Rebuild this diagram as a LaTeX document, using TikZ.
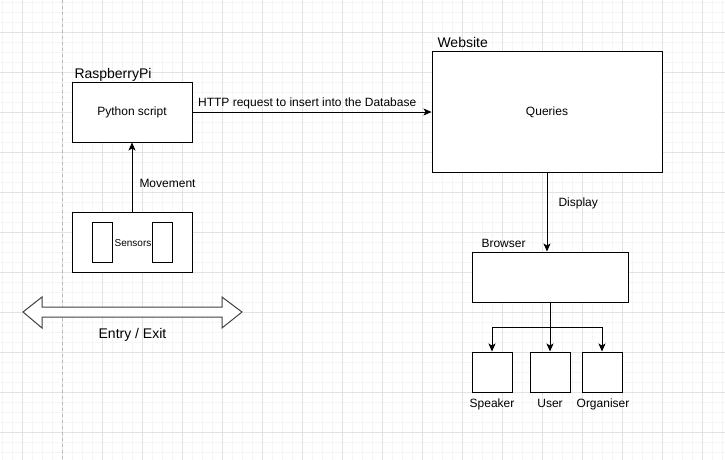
\documentclass[tikz,border=0pt]{standalone}
\usepackage{fontspec}
\setmainfont{Liberation Sans}
\usetikzlibrary{arrows.meta}

\begin{document}
\begin{tikzpicture}[x=1pt, y=-1pt, line width=1pt,
        box/.style={draw, rectangle, fill=white, inner sep=0pt, font=\fontsize{12}{14}\selectfont},
        title/.style={inner sep=0pt, anchor=base west, font=\fontsize{14}{16}\selectfont},
        lbl/.style={inner sep=0pt, font=\fontsize{12}{14}\selectfont},
        conn/.style={-{Stealth[length=8pt, width=7pt, inset=2pt]}}]
        \useasboundingbox (0,0) rectangle (725,460);
        \fill[white] (0,0) rectangle (725,460);

        % grid
        \foreach \x in {2,12,...,722} \draw[gray!8, line width=0.8pt] (\x,0) -- (\x,460);
        \foreach \y in {2,12,...,452} \draw[gray!8, line width=0.8pt] (0,\y) -- (725,\y);
        \foreach \x in {22,102,...,702} \draw[gray!22, line width=0.8pt] (\x,0) -- (\x,460);
        \foreach \x in {62,142,...,702} \draw[gray!22, line width=0.8pt] (\x,0) -- (\x,460);
        \foreach \y in {32,72,...,432} \draw[gray!22, line width=0.8pt] (0,\y) -- (725,\y);
        \draw[gray!55, dashed, line width=0.8pt] (62,0) -- (62,460);

        \node[box, minimum width=120, minimum height=60] (pi) at (132,112) {Python script};
        \node[box, minimum width=230, minimum height=120] (web) at (547,112) {Queries};
        \node[box, minimum width=120, minimum height=60] (sensors) at (132,242) {};
        \node[box, minimum width=20, minimum height=40] (s1) at (102,242) {};
        \node[box, minimum width=20, minimum height=40] (s2) at (162,242) {};
        \node[inner sep=0pt, font=\fontsize{10}{12}\selectfont] (sensorsl) at (133,243) {Sensors};
        \node[box, minimum width=156, minimum height=50] (browser) at (550,277) {};
        \node[box, minimum width=40, minimum height=40] (speaker) at (492,372) {};
        \node[box, minimum width=40, minimum height=40] (user) at (550,372) {};
        \node[box, minimum width=40, minimum height=40] (organiser) at (602,372) {};

        \node[title] (pit) at (74,78) {RaspberryPi};
        \node[title] (webt) at (437,48) {Website};
        \node[lbl, anchor=base west] (browsert) at (481,247) {Browser};
        \node[lbl, anchor=base] (speakert) at (492,407) {Speaker};
        \node[lbl, anchor=base] (usert) at (550,407) {User};
        \node[lbl, anchor=base] (organisert) at (603,407) {Organiser};

        \draw[conn] (pi.east) -- node[lbl, above=3pt, pos=0.48] {HTTP request to insert into the Database} (web.west);
        \draw[conn] (sensors.north) -- node[lbl, right=7pt, pos=0.41] {Movement} (pi.south);
        \draw[conn] (web.south) -- node[lbl, right=11pt, pos=0.39] {Display} (web.south |- browser.north);

        \coordinate (fork) at (550,327);
        \draw (browser.south) -- (fork);
        \draw[conn] (fork) -| (speaker.north);
        \draw[conn] (fork) -- (user.north);
        \draw[conn] (fork) -| (organiser.north);

        % entry / exit
        \draw[black!75, fill=white] (23,312) -- (42,297) -- (42,307) -- (222,307) -- (222,297) -- (242,312)
            -- (222,328) -- (222,317) -- (42,317) -- (42,328) -- cycle;
        \node[inner sep=0pt, anchor=base, font=\fontsize{14}{16}\selectfont] (entry) at (132.5,338) {Entry / Exit};
\end{tikzpicture}
\end{document}
